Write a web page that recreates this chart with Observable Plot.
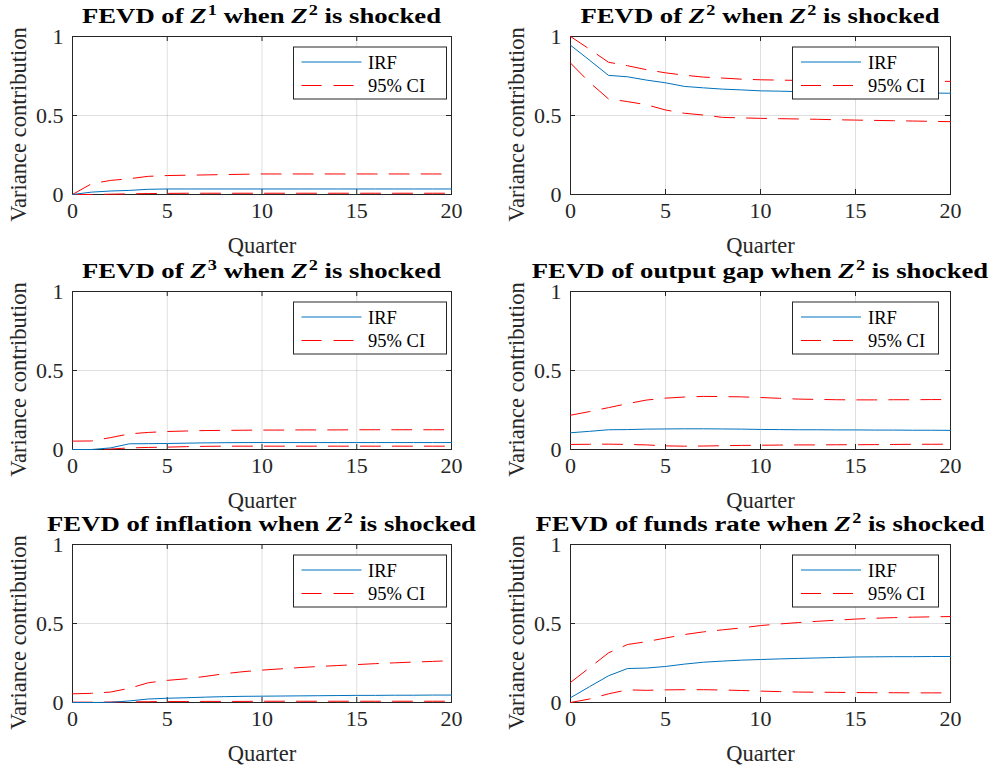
<!DOCTYPE html>
<html>
<head>
<meta charset="utf-8">
<script src="https://cdn.jsdelivr.net/npm/d3@7"></script>
<script src="https://cdn.jsdelivr.net/npm/@observablehq/plot@0.6"></script>
<style>
  body { margin: 0; background: #fff; }
  #chart { position: relative; width: 996px; height: 768px; background: #fff; overflow: hidden; }
  #chart svg { position: absolute; overflow: visible; }
</style>
</head>
<body>
<div id="chart"></div>
<script>
// ---------------- data ----------------
const quarters = [0,1,2,3,4,5,6,7,8,9,10,11,12,13,14,15,16,17,18,19,20];
const xTicks = [0, 5, 10, 15, 20];
const yTicks = [0, 0.5, 1];
const legendLabels = ["IRF", "95% CI"];
const xLabel = "Quarter";
const yLabel = "Variance contribution";

const titles = [
  "FEVD of Z^1 when Z^2 is shocked",
  "FEVD of Z^2 when Z^2 is shocked",
  "FEVD of Z^3 when Z^2 is shocked",
  "FEVD of output gap when Z^2 is shocked",
  "FEVD of inflation when Z^2 is shocked",
  "FEVD of funds rate when Z^2 is shocked"
];

// Z1
const irfZ1 = [0, 0.015, 0.022, 0.026, 0.033, 0.035, 0.035, 0.035, 0.035, 0.035, 0.035, 0.035, 0.035, 0.035, 0.035, 0.035, 0.035, 0.035, 0.035, 0.035, 0.035];
const upZ1  = [0, 0.068, 0.089, 0.100, 0.115, 0.120, 0.122, 0.124, 0.126, 0.128, 0.130, 0.130, 0.130, 0.130, 0.130, 0.130, 0.130, 0.130, 0.130, 0.130, 0.130];
const loZ1  = [0, 0, 0.002, 0.004, 0.006, 0.007, 0.008, 0.008, 0.008, 0.008, 0.008, 0.008, 0.008, 0.008, 0.008, 0.008, 0.008, 0.008, 0.008, 0.008, 0.008];
// Z2
const irfZ2 = [0.945, 0.850, 0.754, 0.745, 0.724, 0.707, 0.684, 0.675, 0.667, 0.662, 0.656, 0.654, 0.651, 0.648, 0.646, 0.645, 0.644, 0.643, 0.642, 0.642, 0.641];
const upZ2  = [1.000, 0.920, 0.837, 0.815, 0.790, 0.770, 0.755, 0.743, 0.737, 0.730, 0.726, 0.724, 0.722, 0.720, 0.719, 0.718, 0.718, 0.717, 0.717, 0.716, 0.716];
const loZ2  = [0.832, 0.710, 0.605, 0.588, 0.568, 0.535, 0.514, 0.503, 0.488, 0.485, 0.482, 0.480, 0.478, 0.476, 0.473, 0.471, 0.469, 0.467, 0.465, 0.463, 0.461];
// Z3
const irfZ3 = [0, 0, 0.010, 0.036, 0.037, 0.038, 0.040, 0.042, 0.043, 0.044, 0.044, 0.044, 0.044, 0.044, 0.044, 0.044, 0.044, 0.044, 0.044, 0.044, 0.044];
const upZ3  = [0.053, 0.054, 0.075, 0.099, 0.108, 0.114, 0.117, 0.120, 0.121, 0.122, 0.123, 0.123, 0.124, 0.124, 0.124, 0.125, 0.125, 0.125, 0.125, 0.125, 0.125];
const loZ3  = [0, 0, 0.003, 0.010, 0.013, 0.015, 0.018, 0.020, 0.021, 0.021, 0.021, 0.021, 0.021, 0.021, 0.021, 0.021, 0.021, 0.021, 0.021, 0.021, 0.021];
// output gap
const irfGap = [0.106, 0.115, 0.125, 0.126, 0.129, 0.130, 0.131, 0.131, 0.130, 0.129, 0.127, 0.126, 0.125, 0.125, 0.124, 0.124, 0.123, 0.123, 0.122, 0.122, 0.121];
const upGap  = [0.217, 0.240, 0.265, 0.290, 0.313, 0.325, 0.332, 0.336, 0.335, 0.333, 0.329, 0.324, 0.319, 0.317, 0.315, 0.314, 0.314, 0.315, 0.315, 0.316, 0.316];
const loGap  = [0.032, 0.033, 0.034, 0.032, 0.029, 0.023, 0.021, 0.022, 0.024, 0.026, 0.027, 0.028, 0.029, 0.029, 0.030, 0.030, 0.031, 0.032, 0.033, 0.033, 0.034];
// inflation
const irfInf = [0, 0, 0.001, 0.010, 0.022, 0.027, 0.030, 0.034, 0.037, 0.039, 0.040, 0.041, 0.042, 0.043, 0.044, 0.045, 0.045, 0.046, 0.046, 0.047, 0.047];
const upInf  = [0.055, 0.058, 0.066, 0.090, 0.125, 0.140, 0.150, 0.165, 0.182, 0.195, 0.205, 0.213, 0.221, 0.228, 0.234, 0.240, 0.246, 0.251, 0.256, 0.260, 0.265];
const loInf  = [0.002, 0.002, 0.003, 0.004, 0.005, 0.006, 0.006, 0.007, 0.007, 0.007, 0.008, 0.008, 0.008, 0.008, 0.008, 0.008, 0.008, 0.008, 0.008, 0.008, 0.008];
// funds rate
const irfFed = [0.030, 0.100, 0.169, 0.215, 0.218, 0.228, 0.243, 0.255, 0.262, 0.268, 0.272, 0.276, 0.279, 0.282, 0.285, 0.288, 0.289, 0.290, 0.290, 0.291, 0.291];
const upFed  = [0.127, 0.220, 0.314, 0.367, 0.385, 0.408, 0.430, 0.447, 0.460, 0.472, 0.487, 0.497, 0.506, 0.514, 0.521, 0.528, 0.533, 0.537, 0.540, 0.542, 0.544];
const loFed  = [0, 0.022, 0.055, 0.080, 0.077, 0.080, 0.081, 0.081, 0.079, 0.076, 0.072, 0.069, 0.066, 0.065, 0.064, 0.063, 0.062, 0.062, 0.061, 0.061, 0.061];

const irfSeries = [irfZ1, irfZ2, irfZ3, irfGap, irfInf, irfFed];
const upSeries  = [upZ1, upZ2, upZ3, upGap, upInf, upFed];
const loSeries  = [loZ1, loZ2, loZ3, loGap, loInf, loFed];

// ---------------- layout / style ----------------
const SERIF = "Liberation Serif";
const AX = "#262626";
const BLUE = "#0072bd";
const RED = "#ff0000";
const DASH = "20,12";
const rowTops = [36, 291, 544];
const frameH = 158;
const MT = 36, MB = 60;
const TITLE_STRETCH = 1.215;
const YLABEL_SHIFT = 9;
const cols = [
  {left: 0,   width: 496, ml: 72, mr: 45, legX: 293, legW: 154, legLine: [8.5, 68.5], legText: 75},
  {left: 496, width: 500, ml: 74, mr: 46, legX: 296, legW: 147, legLine: [9, 69], legText: 76}
];

const chart = document.getElementById("chart");

function addTitle(svg, str, cx, y) {
  const t = d3.select(svg).append("text")
    .attr("x", 0).attr("y", 0)
    .attr("transform", `translate(${cx},${y}) scale(${TITLE_STRETCH},1)`)
    .attr("text-anchor", "middle")
    .style("font-family", SERIF)
    .style("font-weight", "bold")
    .style("font-size", "22px")
    .attr("fill", "#000");
  const parts = str.split(/(Z\^\d)/).filter(p => p.length);
  let pendingDy = 0;
  for (const p of parts) {
    const m = p.match(/^Z\^(\d)$/);
    if (m) {
      t.append("tspan").style("font-style", "italic").attr("dy", pendingDy || null).text("Z");
      t.append("tspan").style("font-size", "15px").attr("dx", 1).attr("dy", -8).text(m[1]);
      pendingDy = 8;
    } else {
      t.append("tspan").attr("dy", pendingDy || null).text(p);
      pendingDy = 0;
    }
  }
}

function addLegend(svg, c) {
  const g = d3.select(svg).append("g").attr("transform", `translate(${c.legX},${MT + 10.5})`);
  g.append("rect").attr("x", 0.5).attr("y", 0.5).attr("width", c.legW - 1).attr("height", 52)
    .attr("fill", "#fff").attr("stroke", AX).attr("stroke-width", 1);
  const rows = [
    {y: 15.5, stroke: BLUE, dash: null},
    {y: 39, stroke: RED, dash: DASH}
  ];
  rows.forEach((r, i) => {
    g.append("line").attr("x1", c.legLine[0]).attr("x2", c.legLine[1])
      .attr("y1", r.y).attr("y2", r.y)
      .attr("stroke", r.stroke).attr("stroke-width", 1)
      .attr("stroke-dasharray", r.dash);
    g.append("text").attr("x", c.legText).attr("y", r.y + 6.5)
      .attr("text-anchor", "start")
      .style("font-family", SERIF).style("font-size", "18.5px")
      .attr("fill", "#000").text(legendLabels[i]);
  });
}

for (let i = 0; i < 6; i++) {
  const c = cols[i % 2];
  const row = Math.floor(i / 2);
  const pw = c.width - c.ml - c.mr;
  const data = quarters.map((q, j) => ({q, irf: irfSeries[i][j], up: upSeries[i][j], lo: loSeries[i][j]}));
  const svg = Plot.plot({
    width: c.width,
    height: MT + frameH + MB,
    marginTop: MT, marginBottom: MB, marginLeft: c.ml, marginRight: c.mr,
    style: {fontFamily: SERIF, fontSize: "22px", color: AX, background: "transparent", overflow: "visible"},
    x: {domain: [0, 20]},
    y: {domain: [0, 1]},
    marks: [
      Plot.gridX({ticks: xTicks, stroke: AX, strokeOpacity: 0.15}),
      Plot.gridY({ticks: yTicks, stroke: AX, strokeOpacity: 0.15}),
      Plot.frame({stroke: AX, strokeWidth: 1}),
      Plot.tickX(xTicks, {x: d => d, insetTop: frameH - 5, stroke: AX}),
      Plot.tickX(xTicks, {x: d => d, insetBottom: frameH - 5, stroke: AX}),
      Plot.tickY(yTicks, {y: d => d, insetRight: pw - 5, stroke: AX}),
      Plot.tickY(yTicks, {y: d => d, insetLeft: pw - 5, stroke: AX}),
      Plot.axisX({ticks: xTicks, tickSize: 0, tickPadding: 8, tickFormat: d => String(d), fontFamily: SERIF, fontSize: 22, fontVariant: "normal", label: null}),
      Plot.axisY({ticks: yTicks, tickSize: 0, tickPadding: 9, tickFormat: d => String(d), fontFamily: SERIF, fontSize: 22, fontVariant: "normal", label: null}),
      Plot.axisX({ticks: [], tickSize: 0, label: xLabel, labelAnchor: "center", labelOffset: 58, labelArrow: "none", fontFamily: SERIF, fontSize: 22.5}),
      Plot.axisY({ticks: [], tickSize: 0, label: yLabel, labelAnchor: "center", labelOffset: 62.5, labelArrow: "none", fontFamily: SERIF, fontSize: 22.5}),
      Plot.line(data, {x: "q", y: "lo", stroke: RED, strokeWidth: 1, strokeDasharray: DASH}),
      Plot.line(data, {x: "q", y: "up", stroke: RED, strokeWidth: 1, strokeDasharray: DASH}),
      Plot.line(data, {x: "q", y: "irf", stroke: BLUE, strokeWidth: 1})
    ]
  });
  // nudge the y-axis label slightly below the frame centre, as in the reference
  const yl = svg.querySelector('[aria-label="y-axis label"]');
  if (yl) yl.setAttribute("transform", `translate(0,${YLABEL_SHIFT}) ${yl.getAttribute("transform") || ""}`);
  svg.style.left = c.left + "px";
  svg.style.top = (rowTops[row] - MT) + "px";
  addTitle(svg, titles[i], c.ml + pw / 2, MT - 13);
  addLegend(svg, c);
  chart.appendChild(svg);
}
</script>
</body>
</html>
